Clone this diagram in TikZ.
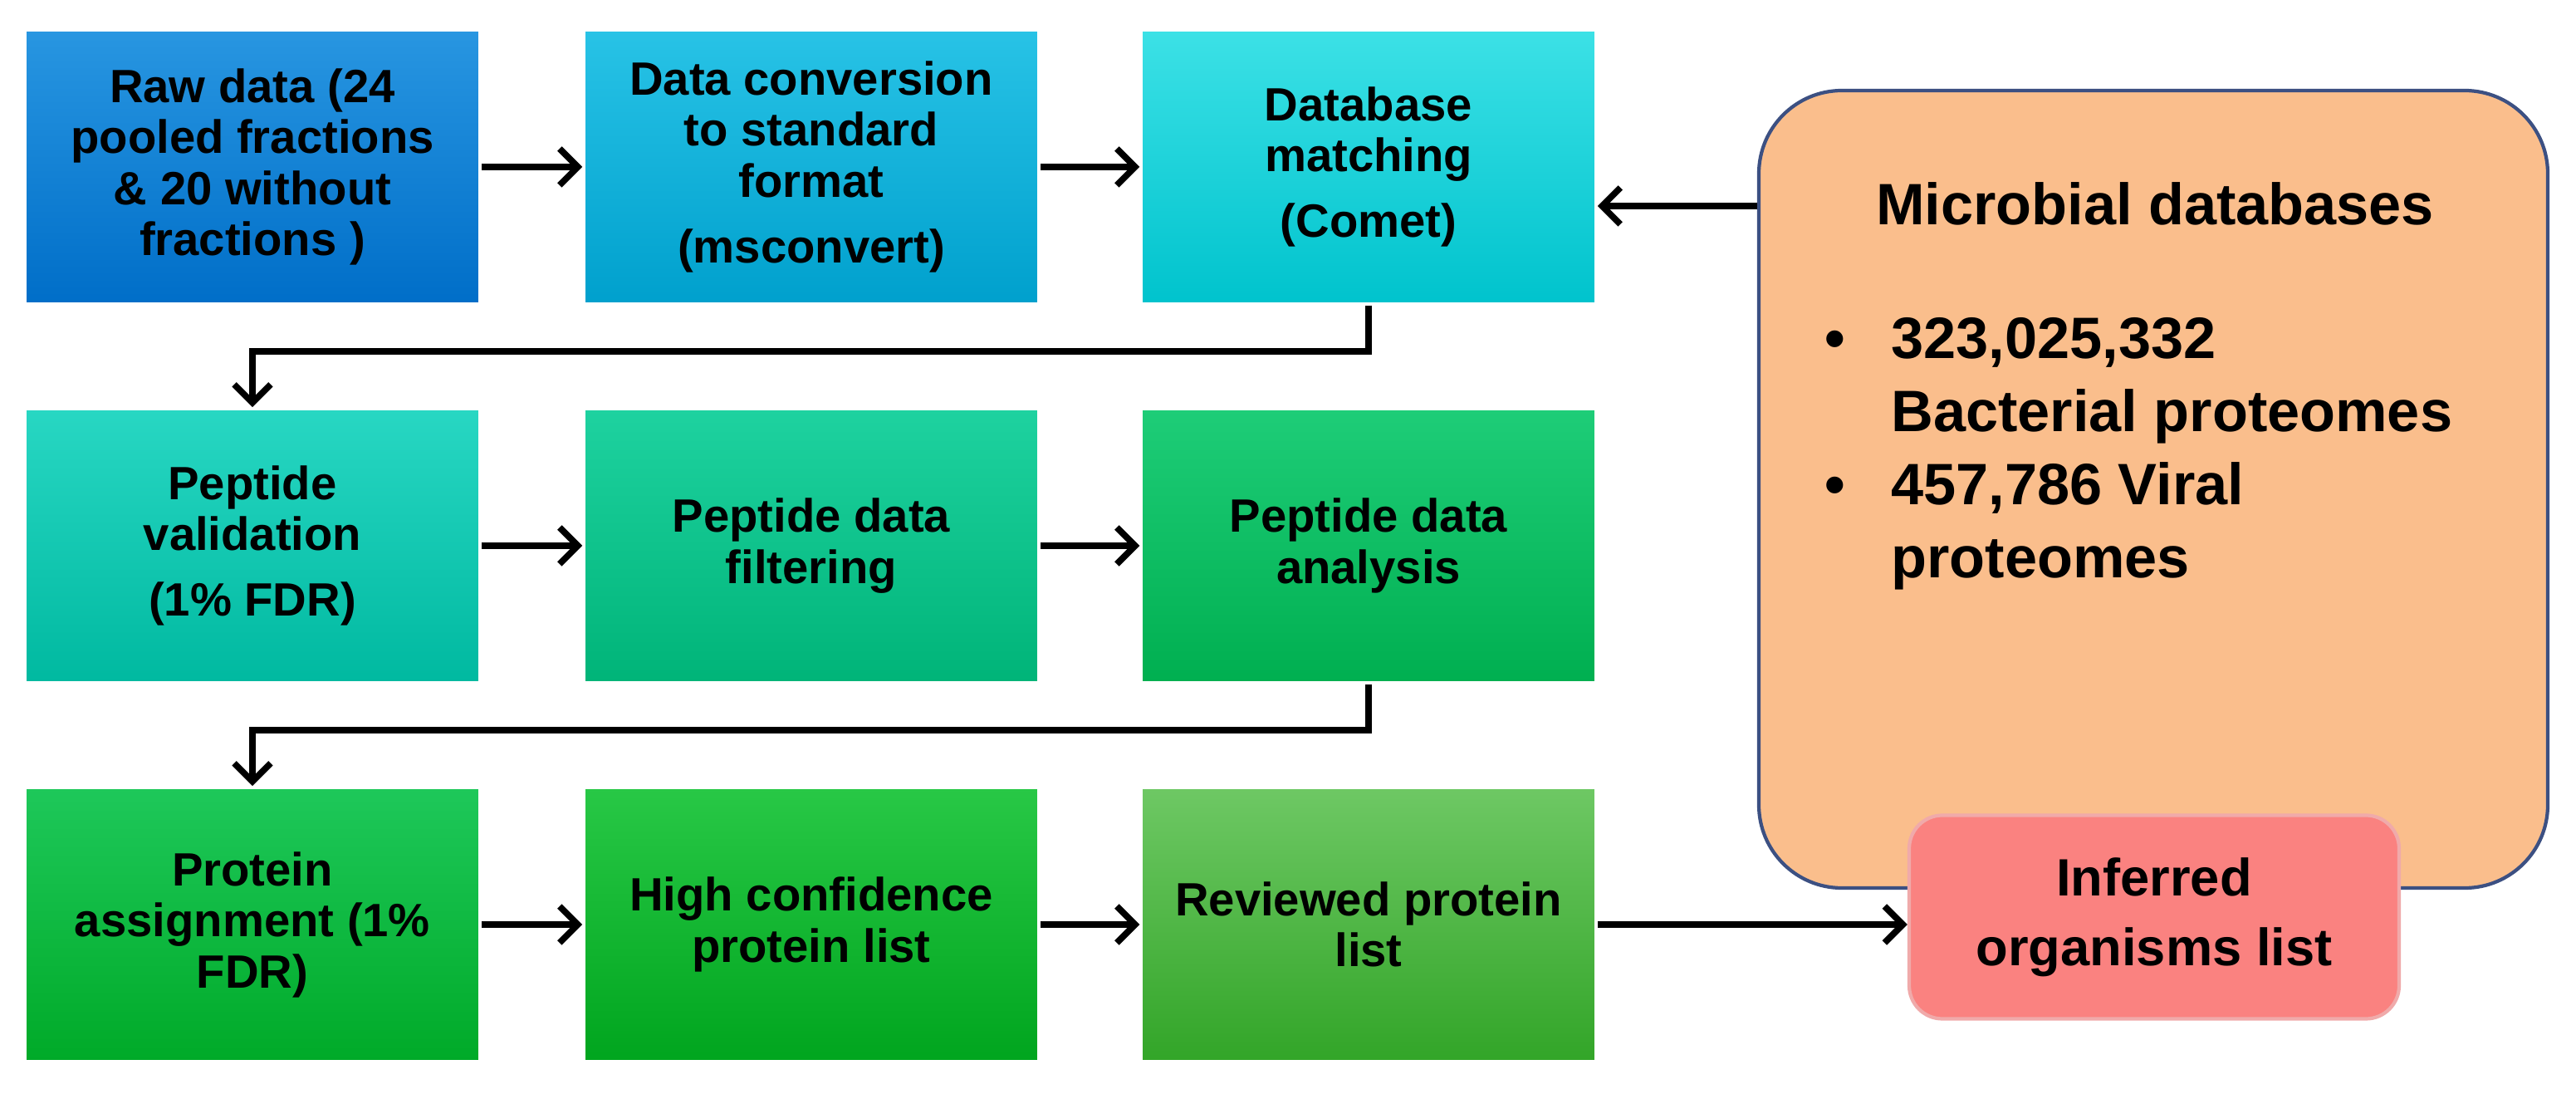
\documentclass[tikz,border=0pt]{standalone}
\usepackage{fontspec}
\setmainfont{Liberation Sans}
\usetikzlibrary{positioning,arrows.meta}
\definecolor{blueTop}{RGB}{40,150,225}
\definecolor{blueBot}{RGB}{0,110,200}
\definecolor{azureTop}{RGB}{40,195,230}
\definecolor{azureBot}{RGB}{0,160,205}
\definecolor{cyanTop}{RGB}{60,225,230}
\definecolor{cyanBot}{RGB}{0,195,205}
\definecolor{tealTop}{RGB}{40,215,195}
\definecolor{tealBot}{RGB}{0,185,160}
\definecolor{seaTop}{RGB}{30,210,160}
\definecolor{seaBot}{RGB}{0,180,120}
\definecolor{jadeTop}{RGB}{30,205,120}
\definecolor{jadeBot}{RGB}{0,175,80}
\definecolor{grassTop}{RGB}{30,200,90}
\definecolor{grassBot}{RGB}{0,170,40}
\definecolor{leafTop}{RGB}{40,200,70}
\definecolor{leafBot}{RGB}{0,165,30}
\definecolor{oliveTop}{RGB}{110,200,100}
\definecolor{oliveBot}{RGB}{50,165,40}
\definecolor{peachFill}{RGB}{250,190,140}
\definecolor{peachLine}{RGB}{60,80,130}
\definecolor{roseFill}{RGB}{250,130,128}
\definecolor{roseLine}{RGB}{240,170,170}
\tikzstyle{stepBox} = [minimum width=5.48cm, minimum height=3.3cm, draw=white, line width=1pt, align=center, font=\bfseries\fontsize{16}{17.5}\selectfont, inner sep=2pt]
\tikzstyle{flowArrow} = [-{Straight Barb[length=2.2mm,width=4.4mm]}, line width=2.2pt, black]
\newcommand{\stepNode}[5]{\node [stepBox, top color=#4Top, bottom color=#4Bot] (#1) at (#2,#3) {#5};}
\begin{document}
\begin{tikzpicture}[y=-1cm]
  \useasboundingbox (0,0) rectangle (31.02,13.17);
  % first row
  \stepNode{raw}{3.04}{2.01}{blue}{Raw data (24\\pooled fractions\\\& 20 without\\fractions )}
  \stepNode{conv}{9.77}{2.01}{azure}{Data conversion\\to standard\\format\\[5pt](msconvert)}
  \stepNode{db}{16.48}{2.01}{cyan}{Database\\matching\\[5pt](Comet)}
  % second row
  \stepNode{valid}{3.04}{6.57}{teal}{Peptide\\validation\\[5pt](1\% FDR)}
  \stepNode{filt}{9.77}{6.57}{sea}{Peptide data\\filtering}
  \stepNode{anal}{16.48}{6.57}{jade}{Peptide data\\analysis}
  % third row
  \stepNode{assign}{3.04}{11.13}{grass}{Protein\\assignment (1\%\\FDR)}
  \stepNode{conf}{9.77}{11.13}{leaf}{High confidence\\protein list}
  \stepNode{review}{16.48}{11.13}{olive}{Reviewed protein\\list}
  % databases and result
  \node [draw=peachLine, line width=1.2pt, fill=peachFill, rounded corners=1cm, minimum width=9.5cm, minimum height=9.6cm] (micro) at (25.93,5.89) {};
  \node [font=\bfseries\fontsize{20}{24}\selectfont] (microTitle) at (25.95,2.45) {Microbial databases};
  \node [font=\bfseries\fontsize{20}{25}\selectfont, align=left, anchor=north west] (microList) at (21.85,3.7) {%
    \makebox[0.8cm][l]{\textbullet}323,025,332\\
    \hspace*{0.8cm}Bacterial proteomes\\
    \makebox[0.8cm][l]{\textbullet}457,786 Viral\\
    \hspace*{0.8cm}proteomes};
  \node [draw=roseLine, line width=1.2pt, fill=roseFill, rounded corners=0.4cm, minimum width=5.9cm, minimum height=2.45cm, align=center, font=\bfseries\fontsize{18}{24}\selectfont] (infer) at (25.94,11.04) {Inferred\\organisms list};
  % connectors
  \draw [flowArrow] (raw) -- (conv);
  \draw [flowArrow] (conv) -- (db);
  \draw [flowArrow] (valid) -- (filt);
  \draw [flowArrow] (filt) -- (anal);
  \draw [flowArrow] (assign) -- (conf);
  \draw [flowArrow] (conf) -- (review);
  \coordinate (dbIn) at ([yshift=-4.7mm]db.east);
  \draw [flowArrow] (micro.west |- dbIn) -- (dbIn);
  \draw [flowArrow] (db.south) -- ++(0,0.55) -| (valid.north);
  \draw [flowArrow] (anal.south) -- ++(0,0.55) -| (assign.north);
  \draw [flowArrow] (review.east) -- (infer.west |- review.east);
\end{tikzpicture}
\end{document}
